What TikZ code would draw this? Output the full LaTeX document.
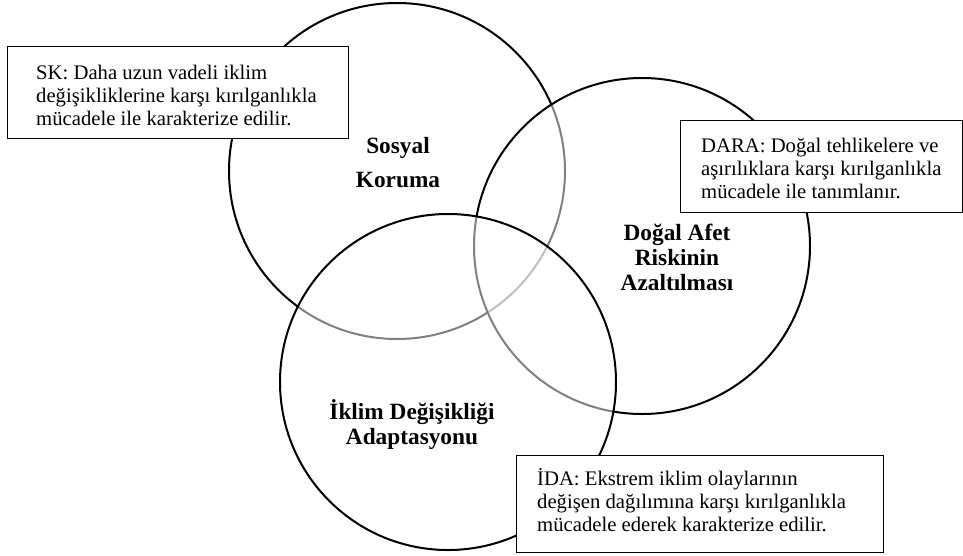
\documentclass[tikz,border=0pt]{standalone}
\usepackage{fontspec}
\setmainfont{Liberation Serif}
\begin{document}
\begin{tikzpicture}[x=1pt,y=-1pt,
  venn/.style={fill=white, fill opacity=0.5, draw=black, draw opacity=1, line width=2pt},
  notebox/.style={draw=black, line width=1.2pt, fill=white, rectangle, inner sep=0pt, anchor=north west},
  notetext/.style={anchor=north west, inner sep=0pt, align=left, font=\fontsize{20.7pt}{23.2pt}\selectfont},
  title/.style={align=center, inner sep=0pt, font=\bfseries\fontsize{23.3pt}{25pt}\selectfont}]
\useasboundingbox (0,0) rectangle (963,555);
% circles
\coordinate (sk) at (397,171);
\coordinate (dara) at (642,246);
\coordinate (ida) at (448,382);
\path[venn] (sk) circle[radius=168];
\path[venn] (dara) circle[radius=168];
\path[venn] (ida) circle[radius=168];
% circle titles
\node[title, font=\bfseries\fontsize{23.3pt}{34pt}\selectfont] (skt) at (398,163) {Sosyal\\Koruma};
\node[title] (darat) at (677,257) {Doğal Afet\\Riskinin\\Azaltılması};
\node[title] (idat) at (412,425) {İklim Değişikliği\\Adaptasyonu};
% note boxes
\node[notebox, minimum width=341pt, minimum height=92pt] (skbox) at (7,46) {};
\node[notetext] (sknote) at (36,65) {SK: Daha uzun vadeli iklim\\değişikliklerine karşı kırılganlıkla\\mücadele ile karakterize edilir.};
\node[notebox, minimum width=281.5pt, minimum height=92pt] (darabox) at (680,120) {};
\node[notetext] (daranote) at (701,138) {DARA: Doğal tehlikelere ve\\aşırılıklara karşı kırılganlıkla\\mücadele ile tanımlanır.};
\node[notebox, minimum width=367pt, minimum height=97pt] (idabox) at (516,455) {};
\node[notetext] (idanote) at (537,468) {İDA: Ekstrem iklim olaylarının\\değişen dağılımına karşı kırılganlıkla\\mücadele ederek karakterize edilir.};
\end{tikzpicture}
\end{document}
